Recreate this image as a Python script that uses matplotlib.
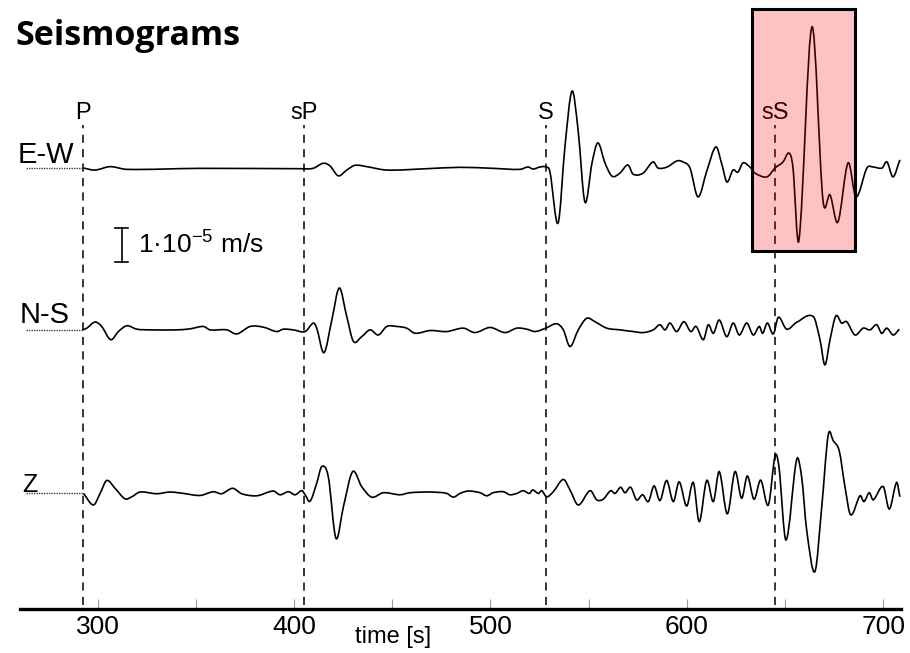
import matplotlib
matplotlib.use("Agg")
import matplotlib.pyplot as plt
from matplotlib.patches import Rectangle, PathPatch
from matplotlib.path import Path

plt.rcParams['font.family'] = ['Liberation Sans', 'DejaVu Sans']

# traces: time [s], ground velocity [1e-6 m/s]
ew_t = [292.7, 298.6, 306.3, 314.8, 352.1, 403.0, 409.6, 414.9, 418.3, 422.5,
        426.8, 431.0, 437.0, 447.2, 467.5, 484.5, 501.4, 515.0, 519.1, 521.7,
        525.2, 528.3, 530.3, 534.4, 537.9, 541.5, 544.6, 548.1, 551.7, 554.7,
        558.3, 561.9, 565.9, 570.0, 572.6, 577.7, 582.8, 585.3, 589.9, 595.0,
        598.0, 601.6, 605.7, 610.3, 614.8, 617.9, 620.4, 623.5, 626.0, 628.6,
        632.1, 634.7, 640.8, 644.9, 649.0, 652.0, 654.0, 657.1, 663.7, 669.3,
        672.9, 676.9, 682.1, 686.1, 691.7, 694.8, 699.4, 701.9, 705.0, 708.5]
ew_a = [0, -0.6, 0.4, -0.4, -0.1, -0.2, -0.1, 1.4, 0.6, -2.3,
        -0.6, 0.8, 0.4, -0.6, -0.2, 0.2, -0.1, -0.4, 0.3, -0.3,
        0.3, 0.3, -1.2, -16.2, 6.2, 22.6, 11.2, -10.0, 1.5, 7.4,
        1.5, -2.4, -1.5, 0.9, -1.8, -1.5, 1.8, 0, 0.3, 2.1,
        1.8, 0, -8.5, -0.6, 6.2, 0.9, -4.1, -0.6, -1.2, 1.5,
        0.3, -1.5, -2.6, 0, 1.8, 4.4, 0.3, -21.2, 41.5, -9.4,
        -7.9, -15.9, 1.5, -8.5, 0, 0.3, 0, 1.8, -2.6, 2.4]

ns_t = [292.2, 294.4, 298.6, 302.0, 306.6, 310.5, 314.8, 319.9, 326.6, 340.2,
        347.0, 353.8, 357.2, 365.7, 370.8, 377.6, 384.3, 391.1, 394.5, 399.6,
        405.6, 409.8, 411.5, 415.2, 419.2, 423.0, 426.8, 430.2, 434.4, 438.7,
        442.9, 447.2, 452.3, 457.3, 461.6, 469.2, 477.7, 486.2, 492.1, 499.8,
        507.4, 513.4, 518.5, 522.7, 528.1, 533.7, 537.1, 540.5, 544.7, 549.0,
        553.2, 559.2, 565.9, 572.7, 577.8, 582.9, 586.3, 588.9, 591.4, 594.8,
        598.5, 602.0, 604.7, 608.4, 610.9, 613.5, 616.5, 620.3, 623.6, 626.7,
        630.5, 633.8, 636.9, 638.6, 641.0, 644.0, 646.6, 650.8, 655.9, 664.4,
        667.8, 670.3, 672.9, 675.9, 678.8, 681.4, 685.6, 689.8, 693.3, 696.7,
        699.2, 701.8, 705.1, 708.2]
ns_a = [0, 0.5, 2.3, 1.0, -2.9, -0.5, 1.2, 0.2, 0, 0,
        0.3, 1.0, 0, 0, -1.2, 1.0, 0.8, -0.5, 0.2, 0,
        -0.5, 2.0, 0.5, -6.7, 2.9, 12.3, 3.9, -3.4, -2.0, 0,
        -1.5, 1.0, 1.0, 0.5, -1.0, -0.2, -0.5, 0.5, -0.8, 0.7,
        -0.8, 0.5, 0.2, -0.5, 0.5, 1.8, 0, -4.9, 0, 3.4,
        2.4, 0.5, 0, -0.5, -0.8, 0, 1.5, 0, 2.0, -0.5,
        2.4, -0.5, 1.0, -2.9, 1.5, -1.0, 2.9, -2.0, 2.0, -1.5,
        2.0, -1.5, 1.0, -1.0, 2.0, -1.2, 3.7, 0.2, 2.2, 3.9,
        -2.9, -10.3, -2.9, 4.1, 2.0, 2.4, -1.5, 0.5, 0, 1.5,
        -1.0, 0.5, -1.5, 0.2]

z_t = [292.7, 297.8, 301.2, 304.6, 308.8, 313.9, 317.3, 321.5, 330.0, 336.8,
       343.6, 352.1, 358.9, 363.1, 368.7, 373.3, 381.0, 389.4, 392.8, 397.1,
       400.5, 403.9, 405.6, 408.1, 411.5, 414.1, 417.4, 421.3, 425.1, 429.8,
       434.4, 439.5, 445.4, 453.9, 459.0, 469.2, 477.7, 481.1, 484.5, 488.7,
       494.7, 498.1, 501.4, 506.5, 509.9, 513.4, 516.7, 519.8, 521.5, 524.4,
       526.1, 528.6, 532.0, 537.1, 540.5, 544.7, 550.7, 554.1, 557.4, 561.2,
       563.4, 566.3, 568.5, 571.4, 574.4, 577.5, 580.4, 583.3, 586.3, 589.7,
       593.1, 596.1, 599.9, 603.3, 606.3, 610.1, 613.5, 616.5, 620.6, 624.5,
       627.9, 630.8, 634.2, 637.6, 641.5, 644.9, 646.9, 650.5, 655.9, 658.5,
       661.0, 665.2, 668.7, 672.0, 674.6, 677.6, 680.5, 683.4, 688.2, 690.2,
       692.9, 694.9, 700.0, 703.1, 706.8, 708.5]
z_a = [0, -3.4, 0, 3.8, 1.5, -1.6, -1.0, 0.4, -0.1, 0.4,
       0, -0.6, 0.5, -0.1, 1.5, -0.1, -0.7, 0.7, -0.4, 0.5,
       -0.4, 0.8, -0.4, -2.3, 3.0, 7.9, 4.9, -13.2, -3.9, 6.4,
       2.0, -1.1, 0.2, -0.4, 0.2, 0.4, 0, -1.1, 0, 0.7,
       0.2, -0.7, 0.2, 0.5, -0.4, 0, 0.8, 0, 1.0, 0,
       0.8, -1.0, 0.5, 4.1, 1.0, -3.4, 0.8, -1.9, -1.7, 0.8,
       0, 1.8, 0.2, 1.8, -1.9, -0.4, -2.4, 2.2, -2.1, 3.8,
       -2.4, 3.4, -3.7, 3.2, -8.3, 3.8, -2.4, 6.4, -6.0, 6.4,
       -1.4, 5.1, -1.7, 3.9, -3.4, 11.0, 7.8, -13.7, 9.9, 4.6,
       -10.7, -23.0, -3.9, 17.2, 15.4, 12.5, 2.0, -6.3, -0.7, -2.4,
       0.2, -1.9, 2.0, -4.6, 3.2, -1.0]

components = ['E-W', 'N-S', 'Z']
offsets = [129.7, 82.1, 34.0]          # vertical position of each trace
phases = ['P', 'sP', 'S', 'sS']
phase_times = [292.7, 405.2, 528.1, 645.0]
pre_start = 263.5                       # dotted lead-in before the record starts
sS_window = (633.1, 685.5)
scale_len = 10                          # 1e-5 m/s


def smooth_path(x, y):
    # draw the readings as a bezier curve through every point (hermite tangents)
    n = len(x)
    verts = [(x[0], y[0])]
    codes = [Path.MOVETO]
    slope = []
    for i in range(n):
        j0, j1 = max(i - 1, 0), min(i + 1, n - 1)
        slope.append((y[j1] - y[j0]) / (x[j1] - x[j0]))
    for i in range(n - 1):
        d = (x[i + 1] - x[i]) / 3
        verts += [(x[i] + d, y[i] + slope[i] * d),
                  (x[i + 1] - d, y[i + 1] - slope[i + 1] * d),
                  (x[i + 1], y[i + 1])]
        codes += [Path.CURVE4] * 3
    return Path(verts, codes)


W, H = 910, 653
fig = plt.figure(figsize=(W / 100, H / 100), dpi=100)
ax = fig.add_axes([20 / W, 44 / H, 880.7 / W, 609 / H])
ax.set_xlim(260.4, 708.9)
ax.set_ylim(0, 609 / 3.4)

traces = [(ew_t, ew_a), (ns_t, ns_a), (z_t, z_a)]
for (t, a), off in zip(traces, offsets):
    ax.add_patch(PathPatch(smooth_path(t, [v + off for v in a]), fill=False,
                           edgecolor='black', lw=1.2, zorder=3))
    ax.plot([pre_start, t[0]], [off, off], color='0.25', lw=1.0,
            linestyle=(0, (1, 0.8)), zorder=3)

# phase markers
for name, tp in zip(phases, phase_times):
    ax.plot([tp, tp], [1.2, 142.4], color='0.15', lw=1.3,
            linestyle=(0, (4.5, 3.5)), zorder=2)
    ax.text(tp, 144.1, name, ha='center', va='baseline', fontsize=17, zorder=2)

# highlighted sS window
ax.add_patch(Rectangle((sS_window[0], 105.4), sS_window[1] - sS_window[0], 71.1,
                       facecolor=(1, 0, 0, 0.24), edgecolor='black', lw=2.2, zorder=5))

# amplitude scale bar
xs = 312.1
ax.plot([xs, xs], [102.1, 102.1 + scale_len], color='black', lw=1.2)
ax.plot([xs - 3.3, xs + 3.3], [102.1, 102.1], color='black', lw=1.2)
ax.plot([xs - 3.3, xs + 3.3], [102.1 + scale_len] * 2, color='black', lw=1.2)
ax.text(320.5, 104.7, r'1·10$^{\mathregular{-5}}$ m/s', fontsize=19, va='baseline')

for sp in ['left', 'top', 'right']:
    ax.spines[sp].set_visible(False)
ax.spines['bottom'].set_linewidth(2.4)
ax.set_yticks([])
ax.set_xticks([300, 400, 500, 600, 700])
ax.set_xticks([350, 450, 550, 650], minor=True)
ax.tick_params(axis='x', which='both', direction='in', length=7, width=0.8,
               color='0.6', labelsize=19, pad=4)

# component labels
fig.text(18 / W, 1 - 163 / H, components[0], fontsize=21, va='baseline')
fig.text(20 / W, 1 - 323 / H, components[1], fontsize=21, va='baseline')
fig.text(22 / W, 1 - 492 / H, components[2], fontsize=18, va='baseline')

fig.text(393 / W, 1 - 637 / H, 'time [s]', fontsize=17, ha='center', va='center')
fig.text(15 / W, 1 - 45 / H, 'Seismograms', fontsize=24.5, fontweight='bold',
         family='Open Sans', va='baseline')

fig.savefig('out.png', dpi=100)
